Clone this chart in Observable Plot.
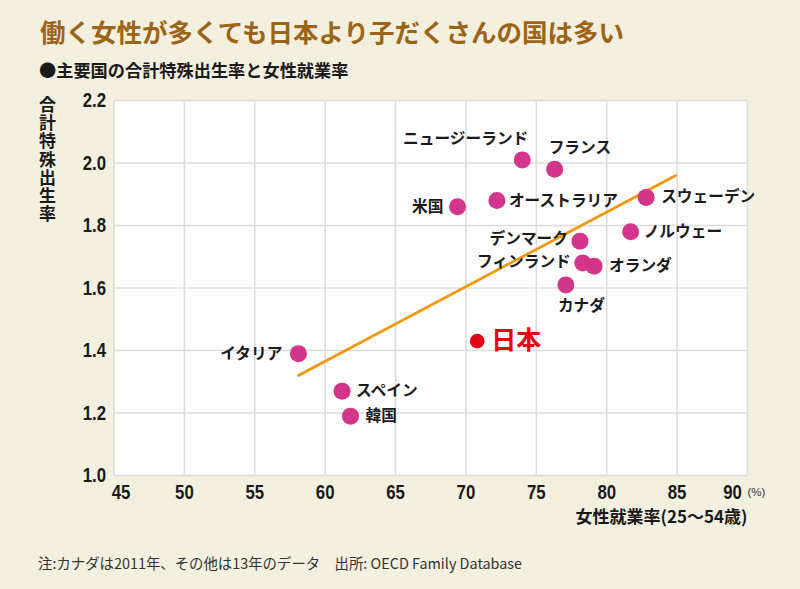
<!DOCTYPE html>
<html>
<head>
<meta charset="utf-8">
<script src="https://cdn.jsdelivr.net/npm/d3@7"></script>
<script src="https://cdn.jsdelivr.net/npm/@observablehq/plot@0.6"></script>
<style>
  html, body { margin: 0; padding: 0; }
  body { width: 800px; height: 589px; background: #f4f0df; position: relative; overflow: hidden;
         font-family: "Noto Sans CJK JP", "Noto Sans", sans-serif; }
  #title { position: absolute; left: 40px; top: 12px; font-size: 25.5px; font-weight: 700; color: #9c6418; white-space: nowrap; }
  #subtitle { position: absolute; left: 39px; top: 57px; font-size: 17.2px; font-weight: 700; color: #1a1a1a; white-space: nowrap; }
  #ytitle { position: absolute; left: 39px; top: 96px; font-size: 17px; font-weight: 700; color: #1a1a1a;
            writing-mode: vertical-rl; text-orientation: upright; letter-spacing: 1.2px; line-height: 1; }
  #chart { position: absolute; left: 0; top: 85px; }
  #note { position: absolute; left: 38px; top: 552px; font-size: 14.4px; color: #333; white-space: nowrap; }
</style>
</head>
<body>
<div id="title"></div>
<div id="subtitle"></div>
<div id="ytitle"></div>
<div id="chart"></div>
<div id="note"></div>
<script>
// ---- data ----
const countries  = ["イタリア","スペイン","韓国","米国","オーストラリア","ニュージーランド","フランス","カナダ","デンマーク","フィンランド","オランダ","ノルウェー","スウェーデン"];
const employment = [58.1, 61.2, 61.8, 69.4, 72.2, 74.0, 76.3, 77.1, 78.1, 78.3, 79.1, 81.7, 82.8];
const fertility  = [1.39, 1.27, 1.19, 1.86, 1.88, 2.01, 1.98, 1.61, 1.75, 1.68, 1.67, 1.78, 1.89];
const japanName = "日本";
const japanEmployment = 70.8;
const japanFertility = 1.43;
const trendEmployment = [58.1, 84.9];
const trendFertility = [1.32, 1.96];
const xTicks = [45, 50, 55, 60, 65, 70, 75, 80, 85, 90];
const yTicks = [1.0, 1.2, 1.4, 1.6, 1.8, 2.0, 2.2];
const titleText = "働く女性が多くても日本より子だくさんの国は多い";
const subtitleText = "●主要国の合計特殊出生率と女性就業率";
const yTitleText = "合計特殊出生率";
const xTitleText = "女性就業率(25〜54歳)";
const unitText = "(%)";
const noteText = "注:カナダは2011年、その他は13年のデータ　出所: OECD Family Database";

// ---- label placement (style) ----
const placement = {
  "イタリア":        {anchor: "end",   dx: -16, dy: 0},
  "スペイン":        {anchor: "start", dx: 14,  dy: 0},
  "韓国":            {anchor: "start", dx: 15,  dy: 0},
  "米国":            {anchor: "end",   dx: -14, dy: 0},
  "オーストラリア":  {anchor: "start", dx: 12,  dy: 0},
  "ニュージーランド":{anchor: "end",   dx: 6,   dy: -21},
  "フランス":        {anchor: "start", dx: -6,  dy: -21},
  "カナダ":          {anchor: "start", dx: -8,  dy: 21},
  "デンマーク":      {anchor: "end",   dx: -12, dy: -2},
  "フィンランド":    {anchor: "end",   dx: -12, dy: -1},
  "オランダ":        {anchor: "start", dx: 15,  dy: 0},
  "ノルウェー":      {anchor: "start", dx: 13,  dy: 0},
  "スウェーデン":    {anchor: "start", dx: 15,  dy: 0}
};

document.getElementById("title").textContent = titleText;
document.getElementById("subtitle").textContent = subtitleText;
document.getElementById("ytitle").textContent = yTitleText;
document.getElementById("note").textContent = noteText;

const data = countries.map((c, i) => ({name: c, x: employment[i], y: fertility[i]}));
const japan = [{name: japanName, x: japanEmployment, y: japanFertility}];
const trend = trendEmployment.map((x, i) => ({x, y: trendFertility[i]}));

const numFont = "'Liberation Sans', Arial, sans-serif";
const jpFont = "'Noto Sans CJK JP', sans-serif";
const axisStyle = {tickSize: 0, label: null, fontSize: 21, fontWeight: 700, fontFamily: numFont, fill: "#1a1a1a"};

const labelMarks = data.map(d => {
  const p = placement[d.name];
  return Plot.text([d], {x: "x", y: "y", text: "name", textAnchor: p.anchor, dx: p.dx, dy: p.dy,
    fontSize: 15.7, fontWeight: 700, fill: "#1a1a1a", fontFamily: jpFont});
});

const chart = Plot.plot({
  width: 800,
  height: 455,
  marginTop: 15,
  marginLeft: 113.5,
  marginRight: 53,
  marginBottom: 65,
  style: {background: "transparent", overflow: "visible"},
  x: {domain: [45, 90]},
  y: {domain: [1.0, 2.2]},
  marks: [
    Plot.frame({fill: "white", stroke: "none"}),
    Plot.gridX({ticks: xTicks.slice(1, -1), stroke: "#dcdcdc", strokeOpacity: 1, strokeWidth: 1.6}),
    Plot.gridY({ticks: yTicks.slice(1, -1), stroke: "#dcdcdc", strokeOpacity: 1, strokeWidth: 1.6}),
    Plot.frame({stroke: "#dcdcdc", strokeWidth: 1.6}),
    Plot.axisY({...axisStyle, ticks: yTicks, tickPadding: 8, tickFormat: d3.format(".1f")}),
    Plot.axisX({...axisStyle, ticks: xTicks.slice(0, 1), tickPadding: 9, dx: 7, tickFormat: d3.format("d")}),
    Plot.axisX({...axisStyle, ticks: xTicks.slice(1, -1), tickPadding: 9, tickFormat: d3.format("d")}),
    Plot.axisX({...axisStyle, ticks: xTicks.slice(-1), tickPadding: 9, dx: -15, tickFormat: d3.format("d")}),
    Plot.text([xTicks[xTicks.length - 1]], {x: d => d, frameAnchor: "bottom", text: () => unitText, textAnchor: "start",
      dx: 0, dy: 20, fontSize: 11.5, fill: "#333", fontFamily: numFont}),
    Plot.text([xTitleText], {frameAnchor: "bottom-right", text: d => d, textAnchor: "end", dy: 47,
      fontSize: 17, fontWeight: 700, fill: "#1a1a1a", fontFamily: jpFont}),
    Plot.line(trend, {x: "x", y: "y", stroke: "#f29600", strokeWidth: 2.6}),
    Plot.dot(data, {x: "x", y: "y", r: 8.5, fill: "#d2358a", stroke: "none"}),
    Plot.dot(japan, {x: "x", y: "y", r: 7.3, fill: "#e60012", stroke: "none"}),
    ...labelMarks,
    Plot.text(japan, {x: "x", y: "y", text: "name", textAnchor: "start", dx: 14, dy: 0,
      fontSize: 25, fontWeight: 700, fill: "#e60012", fontFamily: jpFont})
  ]
});
// condense the numeric tick labels horizontally, like the reference's condensed face
d3.select(chart).selectAll("g[aria-label='x-axis tick label'] text, g[aria-label='y-axis tick label'] text")
  .attr("transform", function() { return (this.getAttribute("transform") || "") + " scale(0.8,1)"; });
document.getElementById("chart").appendChild(chart);
</script>
</body>
</html>
